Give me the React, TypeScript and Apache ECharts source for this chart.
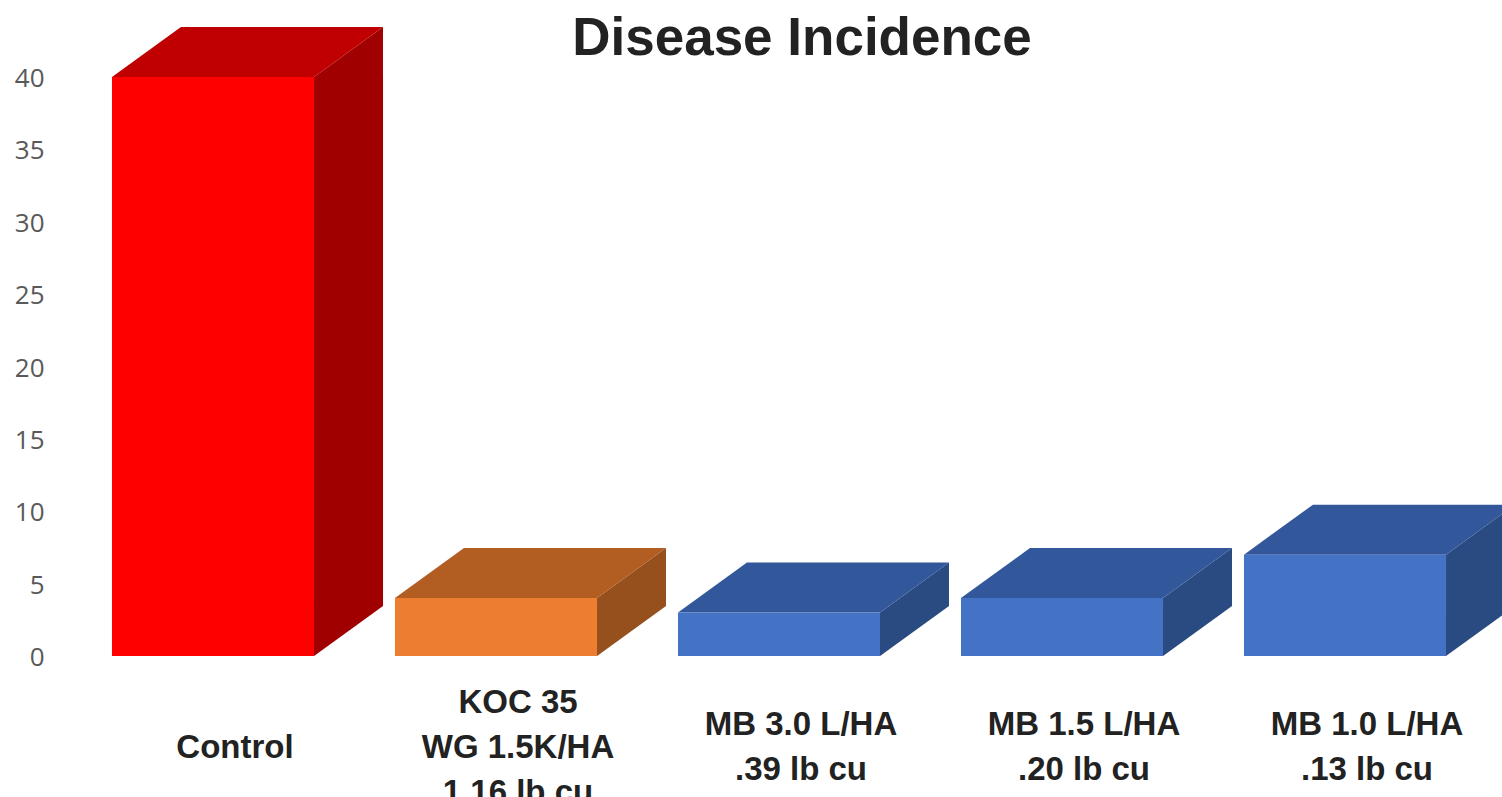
import React, { useEffect, useRef } from "react";
import * as echarts from "echarts";

const categories = [
  "Control",
  "KOC 35\nWG 1.5K/HA\n1.16 lb cu",
  "MB 3.0 L/HA\n.39 lb cu",
  "MB 1.5 L/HA\n.20 lb cu",
  "MB 1.0 L/HA\n.13 lb cu",
];
const values = [40, 4, 3, 4, 7];
const frontColors = ["#FF0000", "#ED7D31", "#4472C4", "#4472C4", "#4472C4"];
const topColors = ["#C00000", "#B25D22", "#32579A", "#32579A", "#32579A"];
const sideColors = ["#A00000", "#96501D", "#2A4A82", "#2A4A82", "#2A4A82"];

export default function App() {
  const ref = useRef<HTMLDivElement>(null);
  useEffect(() => {
    if (!ref.current) return;
    const chart = echarts.init(ref.current, null, { renderer: "svg" });
    const DX = 69;
    const DY = 50;
    chart.setOption({
      animation: false,
      backgroundColor: "#ffffff",
      title: {
        text: "Disease Incidence",
        left: 797,
        textAlign: "center",
        top: 5,
        textStyle: {
          fontFamily: "Liberation Sans, Arial, sans-serif",
          fontWeight: "bold",
          fontSize: 53,
          color: "#222222",
        },
      },
      grid: {
        left: 71.5,
        right: 15.5,
        top: 77,
        bottom: 141,
        containLabel: false,
        outerBoundsMode: "none",
      },
      xAxis: {
        type: "category",
        data: categories,
        axisLine: { show: false },
        axisTick: { show: false },
        splitLine: { show: false },
        axisLabel: {
          interval: 0,
          margin: 90,
          verticalAlign: "middle",
          align: "center",
          padding: [0, 0, 0, 44],
          lineHeight: 45,
          fontFamily: "Liberation Sans, Arial, sans-serif",
          fontWeight: "bold",
          fontSize: 33,
          color: "#222222",
        },
      },
      yAxis: {
        type: "value",
        min: 0,
        max: 40,
        interval: 5,
        axisLine: { show: false },
        axisTick: { show: false },
        splitLine: { show: false },
        axisLabel: {
          margin: 27,
          fontFamily: "Open Sans, sans-serif",
          fontSize: 26,
          color: "#595959",
        },
      },
      series: [
        {
          type: "custom",
          clip: false,
          data: values.map((v, i) => [i, v]),
          encode: { x: 0, y: 1 },
          renderItem: (params: any, api: any) => {
            const idx = api.value(0);
            const v = api.value(1);
            const base = api.coord([idx, 0]);
            const top = api.coord([idx, v]);
            const bw = api.size([1, 0])[0] * 0.714;
            const l = base[0] - bw / 2;
            const r = base[0] + bw / 2;
            const t = top[1];
            const b = base[1];
            return {
              type: "group",
              children: [
                {
                  type: "polygon",
                  shape: { points: [[r, t], [r + DX, t - DY], [r + DX, b - DY], [r, b]] },
                  style: { fill: sideColors[idx] },
                },
                {
                  type: "polygon",
                  shape: { points: [[l, t], [l + DX, t - DY], [r + DX, t - DY], [r, t]] },
                  style: { fill: topColors[idx] },
                },
                {
                  type: "rect",
                  shape: { x: l, y: t, width: bw, height: b - t },
                  style: { fill: frontColors[idx] },
                },
              ],
            };
          },
        },
      ],
    });
    return () => chart.dispose();
  }, []);
  return <div ref={ref} style={{ width: 1502, height: 797, position: "absolute", left: 0, top: 0 }} />;
}
